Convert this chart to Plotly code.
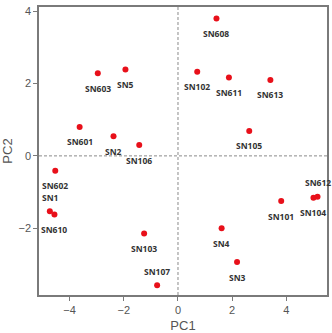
import plotly.graph_objects as go

samples = ["SN603", "SN5", "SN601", "SN2", "SN106", "SN608", "SN102", "SN611", "SN613", "SN105",
           "SN602", "SN1", "SN610", "SN103", "SN107", "SN101", "SN612", "SN104", "SN4", "SN3"]
pc1 = [-2.96, -1.94, -3.63, -2.38, -1.43, 1.42, 0.71, 1.88, 3.41, 2.63,
       -4.53, -4.73, -4.56, -1.25, -0.77, 3.81, 5.15, 5.00, 1.61, 2.18]
pc2 = [2.29, 2.39, 0.80, 0.54, 0.30, 3.80, 2.33, 2.17, 2.10, 0.69,
       -0.41, -1.53, -1.62, -2.15, -3.58, -1.25, -1.13, -1.16, -2.00, -2.94]
label_side = ["below", "below", "below", "below", "below", "below", "below", "below", "below", "below",
              "below", "above", "below", "below", "above", "below", "above", "below", "below", "below"]

x_ticks = [-4, -2, 0, 2, 4]
y_ticks = [-2, 0, 2, 4]

fig = go.Figure()
fig.add_trace(go.Scatter(
    x=pc1, y=pc2, mode="markers",
    marker=dict(color="#e8101a", size=6),
    hoverinfo="text", text=samples, showlegend=False,
))

for name, xv, yv, side in zip(samples, pc1, pc2, label_side):
    fig.add_annotation(
        x=xv, y=yv, xref="x", yref="y", text=name, showarrow=False,
        yshift=(14 if side == "above" else -15),
        font=dict(family="Open Sans", size=8.5, color="#333333", weight="bold"),
    )

axis_common = dict(
    showline=True, linecolor="#7a7a7a", linewidth=1.5, mirror=True,
    ticks="outside", ticklen=4, tickcolor="#7a7a7a", tickwidth=1,
    showgrid=False, zeroline=False, automargin=False,
    tickfont=dict(family="Liberation Sans", size=11, color="#555555"),
    title_font=dict(family="Liberation Sans", size=13, color="#555555"),
)

fig.update_xaxes(range=[-5.13, 5.5], tickvals=x_ticks, title_text="PC1", title_standoff=10, **axis_common)
fig.update_yaxes(range=[-3.85, 4.12], tickvals=y_ticks, title_text="PC2", title_standoff=4, **axis_common)

fig.add_shape(type="line", xref="x", yref="paper", x0=0, x1=0, y0=0, y1=1,
              line=dict(color="#8a8a8a", width=1, dash="3px,2px"), layer="below")
fig.add_shape(type="line", xref="paper", yref="y", x0=0, x1=1, y0=0, y1=0,
              line=dict(color="#8a8a8a", width=1, dash="3px,2px"), layer="below")

fig.update_layout(
    width=332, height=333,
    margin=dict(l=39, r=5, t=7, b=38),
    plot_bgcolor="white", paper_bgcolor="white",
)

fig.write_html("out.html")
